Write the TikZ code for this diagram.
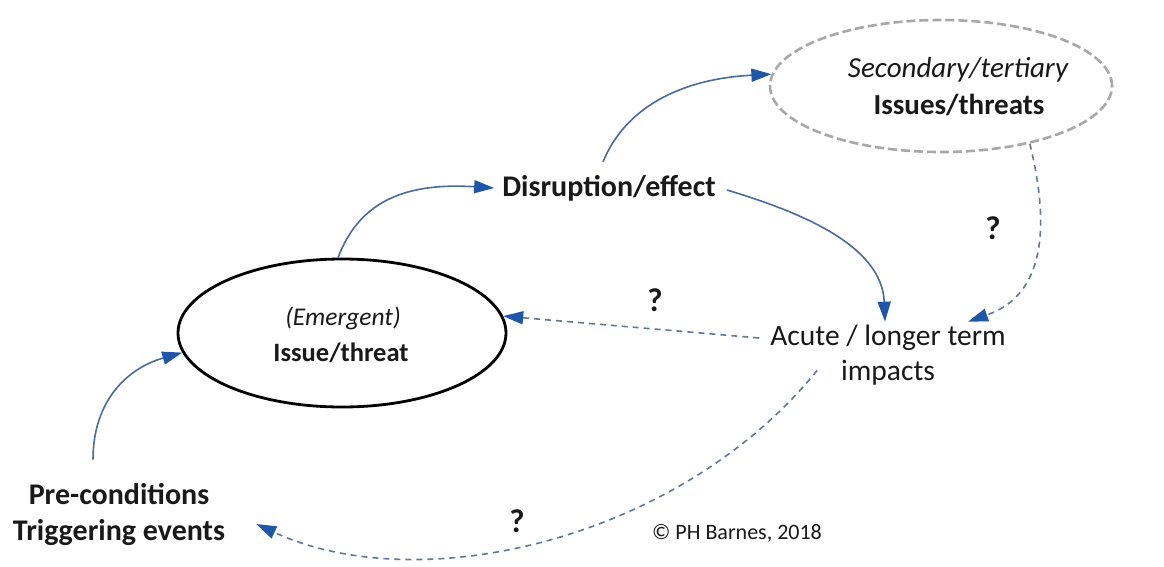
\documentclass[tikz,border=0pt]{standalone}
\usepackage{fontspec}
\setmainfont{Carlito}
\usetikzlibrary{shapes.geometric,arrows.meta,calc}
\definecolor{lineblue}{RGB}{74,108,155}
\definecolor{headblue}{RGB}{30,86,168}
\definecolor{dashblue}{RGB}{100,120,150}
\definecolor{ellgray}{RGB}{168,168,168}
\begin{document}
\begin{tikzpicture}[x=1pt,y=1pt,
  lbl/.style={font=\fontsize{29.5}{35}\selectfont, align=center, inner sep=3pt, text=black!90},
  blbl/.style={lbl, font=\bfseries\fontsize{30}{36}\selectfont},
  qmark/.style={font=\bfseries\fontsize{33}{36}\selectfont, text=black!90, inner sep=0pt},
  conn/.style={draw=lineblue, line width=1.6pt, -{Triangle[length=20pt,width=13pt,color=headblue]}},
  dconn/.style={draw=dashblue, line width=1.6pt, dash pattern=on 6pt off 5pt, -{Triangle[length=20pt,width=13pt,color=headblue]}}
]
\useasboundingbox[fill=white] (0,0) rectangle (1164,-566);

% main ellipse
\node[ellipse, draw=black, line width=2.8pt, minimum width=328pt, minimum height=148pt, inner sep=0pt] (issue) at (342,-333) {};
\node[lbl, font=\itshape\fontsize{25.5}{35}\selectfont] (emer) at (343,-318) {(Emergent)};
\node[blbl, font=\bfseries\fontsize{26.5}{35}\selectfont] (issuet) at (341,-353) {Issue/threat};

% secondary ellipse
\node[ellipse, draw=ellgray, line width=2.6pt, dash pattern=on 9pt off 4pt, minimum width=342pt, minimum height=132pt, inner sep=0pt] (sec) at (941,-86) {};
\node[lbl, font=\itshape\fontsize{29}{35}\selectfont] (sect) at (958,-70) {Secondary/tertiary};
\node[blbl, font=\bfseries\fontsize{29}{35}\selectfont] (secb) at (959,-105) {Issues/threats};

% other labels
\node[blbl, inner xsep=8pt, inner ysep=13pt] (disr) at (609,-188) {Disruption/effect};
\node[lbl] (acute) at (888,-355) {Acute / longer term\\impacts};
\node[blbl] (pre) at (119,-514) {Pre-conditions\\Triggering events};

\node[qmark] (q1) at (655,-300) {?};
\node[qmark] (q2) at (993,-228) {?};
\node[qmark] (q3) at (517,-521) {?};
\node[lbl, font=\fontsize{22}{24}\selectfont] (copy) at (737,-533) {© PH Barnes, 2018};

% connectors
\draw[conn] ($(pre.north)+(-26,20)$) .. controls (93,-400) and (128,-368) .. (issue.187);
\draw[conn] (issue.93) .. controls (358,-205) and (400,-182) .. (disr.west);
\draw[conn] ($(disr.north)+(-6,0)$) .. controls (625,-108) and (680,-79) .. (sec.176);
\draw[conn] ($(disr.east)+(3,-2)$) .. controls (800,-212) and (882,-245) .. ($(acute.north)+(-3,0)$);
\draw[dconn] (sec.-33) .. controls (1062,-275) and (1015,-305) .. ($(acute.north)+(80,0)$);
\draw[dconn] ($(acute.west)+(-8,17)$) -- (issue.6);
\draw[dconn] ($(acute.south west)+(50,18)$) .. controls (680,-540) and (420,-600) .. ($(pre.east)+(28,-10)$);
\end{tikzpicture}
\end{document}
